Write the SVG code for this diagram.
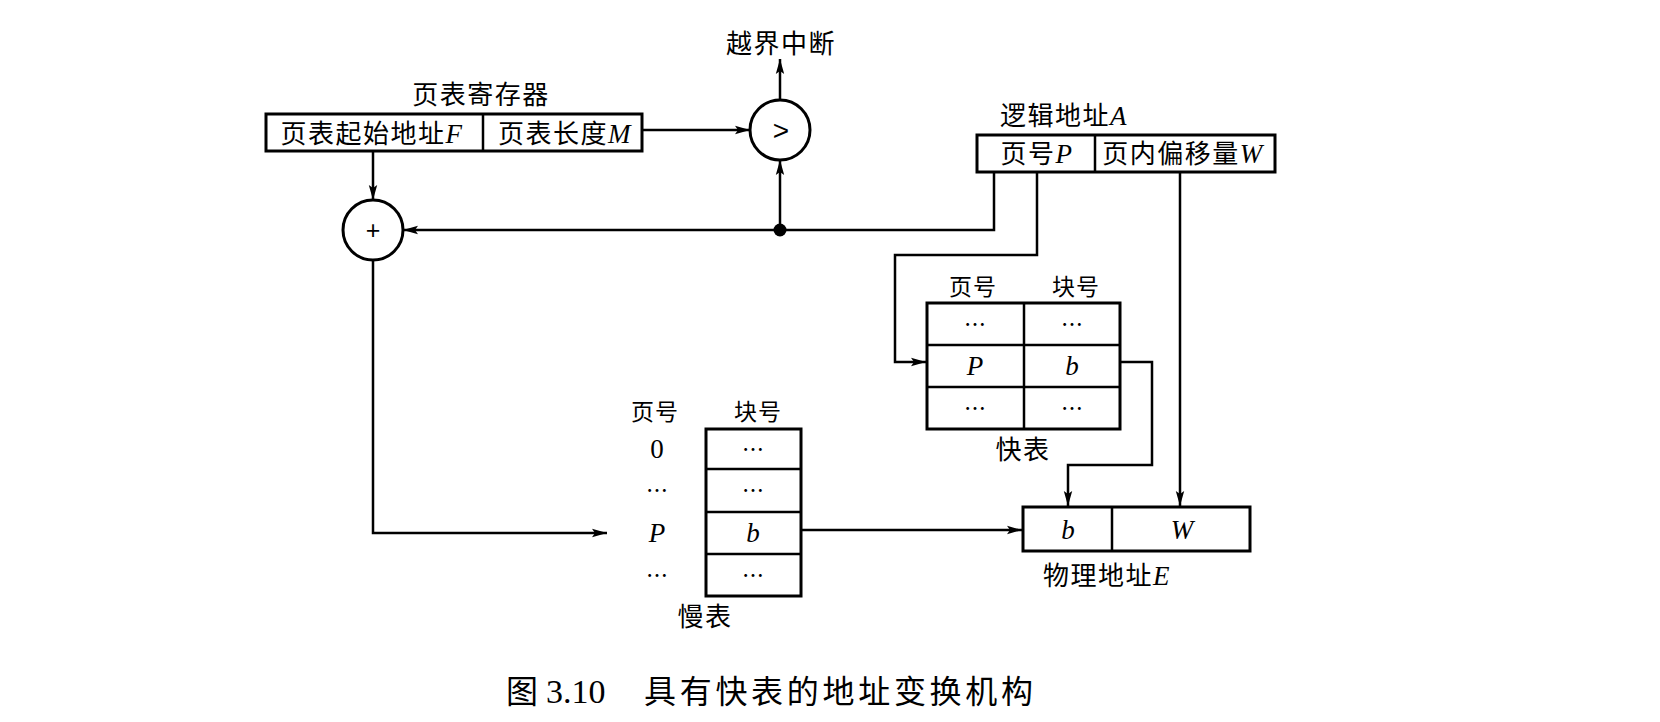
<svg xmlns="http://www.w3.org/2000/svg" width="1660" height="722" viewBox="0 0 1660 722">
<defs>
<marker id="ah" markerUnits="userSpaceOnUse" markerWidth="16" markerHeight="10" refX="15" refY="5" orient="auto">
<path d="M0,0.8 L15,5 L0,9.2 L3,5 z" fill="#000"/>
</marker>
<style>
.ln{fill:none;stroke:#000;stroke-width:2.5}
.bx{fill:#fff;stroke:#000;stroke-width:3}
.in{fill:none;stroke:#000;stroke-width:2.5}
.cj{font-family:"Noto Sans CJK SC",sans-serif;font-size:26px;fill:#000;letter-spacing:1.5px}
.hd{font-family:"Noto Sans CJK SC",sans-serif;font-size:23px;fill:#000;letter-spacing:1px}
.el{font-family:"Noto Sans CJK SC",sans-serif;font-size:22px;fill:#000}
.it{font-family:"Liberation Serif",serif;font-style:italic;font-size:27px;fill:#000}
.sr{font-family:"Liberation Serif",serif;font-size:27px;fill:#000}
.mid{text-anchor:middle}
</style>
</defs>
<rect width="1660" height="722" fill="#fff"/>

<g id="connectors">
<line class="ln" x1="642" y1="130" x2="750" y2="130" marker-end="url(#ah)"/>
<line class="ln" x1="780" y1="100" x2="780" y2="59" marker-end="url(#ah)"/>
<line class="ln" x1="780" y1="230" x2="780" y2="160" marker-end="url(#ah)"/>
<line class="ln" x1="373" y1="151" x2="373" y2="200" marker-end="url(#ah)"/>
<polyline class="ln" points="994,172 994,230 403,230" marker-end="url(#ah)"/>
<polyline class="ln" points="373,260 373,533 607,533" marker-end="url(#ah)"/>
<polyline class="ln" points="1037,172 1037,255 895,255 895,362 926,362" marker-end="url(#ah)"/>
<line class="ln" x1="1180" y1="172" x2="1180" y2="506" marker-end="url(#ah)"/>
<polyline class="ln" points="1120,362 1152,362 1152,465 1068,465 1068,506" marker-end="url(#ah)"/>
<line class="ln" x1="801" y1="530" x2="1022" y2="530" marker-end="url(#ah)"/>
<circle cx="780" cy="230" r="6.5" fill="#000"/>
</g>

<g id="page-table-register">
<text class="cj mid" x="481" y="104">页表寄存器</text>
<rect class="bx" x="266" y="114" width="376" height="37"/>
<line class="in" x1="483" y1="114" x2="483" y2="151"/>
<text class="cj mid" x="372" y="143">页表起始地址<tspan class="it">F</tspan></text>
<text class="cj mid" x="565" y="143">页表长度<tspan class="it">M</tspan></text>
</g>

<g id="comparator">
<circle cx="780" cy="130" r="30" fill="#fff" stroke="#000" stroke-width="3"/>
<text x="781" y="140" text-anchor="middle" font-family="'Liberation Sans',sans-serif" font-size="28" fill="#000">&gt;</text>
</g>

<g id="interrupt">
<text class="cj mid" x="781" y="53">越界中断</text>
</g>

<g id="adder">
<circle cx="373" cy="230" r="30" fill="#fff" stroke="#000" stroke-width="3"/>
<text x="373" y="239" text-anchor="middle" font-family="'Liberation Sans',sans-serif" font-size="25" fill="#000">+</text>
</g>

<g id="logical-address">
<text class="cj" x="1000" y="125">逻辑地址<tspan class="it">A</tspan></text>
<rect class="bx" x="977" y="135" width="298" height="37"/>
<line class="in" x1="1095" y1="135" x2="1095" y2="172"/>
<text class="cj mid" x="1037" y="163">页号<tspan class="it">P</tspan></text>
<text class="cj mid" x="1183" y="163">页内偏移量<tspan class="it">W</tspan></text>
</g>

<g id="fast-table">
<text class="hd mid" x="973" y="295">页号</text>
<text class="hd mid" x="1076" y="295">块号</text>
<rect class="bx" x="927" y="303" width="193" height="126"/>
<line class="in" x1="1024" y1="303" x2="1024" y2="429"/>
<line class="in" x1="927" y1="345" x2="1120" y2="345"/>
<line class="in" x1="927" y1="387" x2="1120" y2="387"/>
<text class="el mid" x="975" y="332">…</text>
<text class="el mid" x="1072" y="332">…</text>
<text class="it mid" x="975" y="375">P</text>
<text class="it mid" x="1072" y="375">b</text>
<text class="el mid" x="975" y="416">…</text>
<text class="el mid" x="1072" y="416">…</text>
<text class="cj mid" x="1023" y="459">快表</text>
</g>

<g id="slow-table">
<text class="hd mid" x="655" y="420">页号</text>
<text class="hd mid" x="758" y="420">块号</text>
<rect class="bx" x="706" y="429" width="95" height="167"/>
<line class="in" x1="706" y1="469" x2="801" y2="469"/>
<line class="in" x1="706" y1="512" x2="801" y2="512"/>
<line class="in" x1="706" y1="554" x2="801" y2="554"/>
<text class="sr mid" x="657" y="458">0</text>
<text class="el mid" x="657" y="498">…</text>
<text class="it mid" x="657" y="542">P</text>
<text class="el mid" x="657" y="583">…</text>
<text class="el mid" x="753" y="457">…</text>
<text class="el mid" x="753" y="498">…</text>
<text class="it mid" x="753" y="542">b</text>
<text class="el mid" x="753" y="583">…</text>
<text class="cj mid" x="705" y="626">慢表</text>
</g>

<g id="physical-address">
<rect class="bx" x="1023" y="507" width="227" height="44"/>
<line class="in" x1="1112" y1="507" x2="1112" y2="551"/>
<text class="it mid" x="1068" y="539">b</text>
<text class="it mid" x="1182" y="539">W</text>
<text class="cj mid" x="1107" y="585">物理地址<tspan class="it">E</tspan></text>
</g>

<g id="caption">
<text x="506" y="703" font-family="'Noto Sans CJK SC',sans-serif" font-size="32" fill="#000">图</text>
<text x="546" y="703" font-family="'Liberation Serif',serif" font-size="34" fill="#000">3.10</text>
<text x="644" y="703" font-family="'Noto Sans CJK SC',sans-serif" font-size="32" fill="#000" textLength="389" lengthAdjust="spacing">具有快表的地址变换机构</text>
</g>
</svg>
